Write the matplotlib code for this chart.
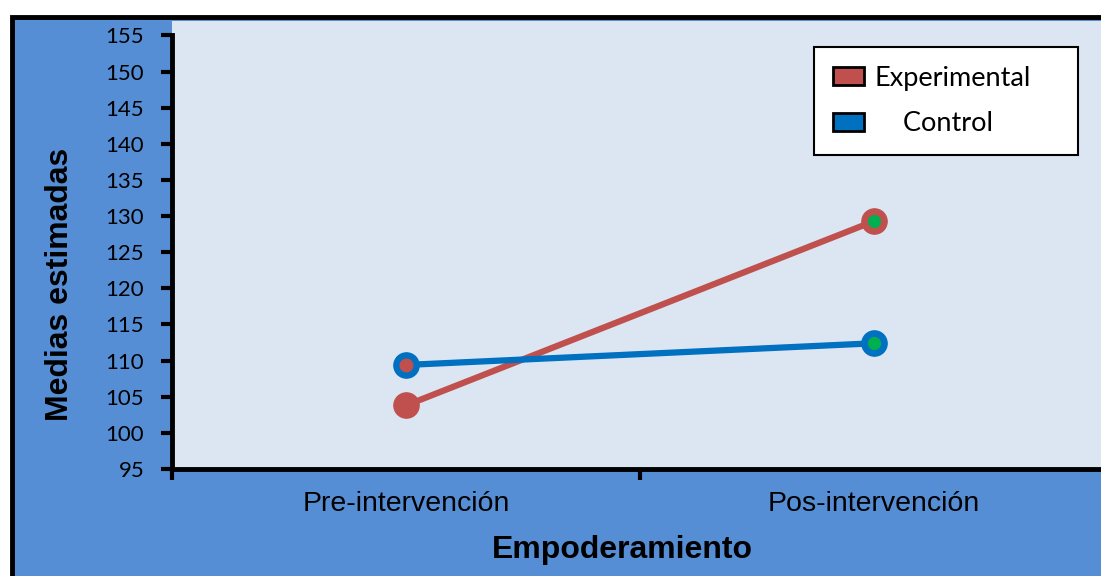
import matplotlib.pyplot as plt
from matplotlib.patches import Rectangle, Patch

# Data
fases = ['Pre-intervención', 'Pos-intervención']
experimental = [103.8, 129.3]
control = [109.4, 112.4]
y_ticks = list(range(95, 160, 5))

red = '#C0504D'
blue = '#0070C0'
green = '#00B050'

fig = plt.figure(figsize=(11.01, 5.76), dpi=100)
fig.patch.set_facecolor('white')

# blue chart frame with black border on top and left
W, H = 1101, 576
fig.patches.append(Rectangle((12 / W, -0.05), 1.05, (576 - 17) / H + 0.05, transform=fig.transFigure,
                             facecolor='#558ED5', edgecolor='black', linewidth=3.5, zorder=-5))

ax = fig.add_axes([172 / W, (576 - 469) / H, 936 / W, (469 - 21) / H])
ax.set_zorder(2)
ax.set_facecolor('#DCE6F2')

x = [0.5, 1.5]
ax.plot(x, experimental, color=red, linewidth=4.5, zorder=3)
ax.plot(x, control, color=blue, linewidth=4.5, zorder=3)

# markers: ring colour / centre colour
big, small = 330, 72
ax.scatter(x[0], experimental[0], s=big, color=red, zorder=4)
ax.scatter(x[1], experimental[1], s=big, color=red, zorder=4)
ax.scatter(x[1], experimental[1], s=small, color=green, zorder=5)
ax.scatter(x[0], control[0], s=big, color=blue, zorder=4)
ax.scatter(x[0], control[0], s=small + 10, color=red, zorder=5)
ax.scatter(x[1], control[1], s=big, color=blue, zorder=4)
ax.scatter(x[1], control[1], s=small, color=green, zorder=5)

ax.set_xlim(0, 2)
ax.set_ylim(95, 157)
ax.set_yticks(y_ticks)
ax.set_yticklabels([str(v) for v in y_ticks], fontsize=16, family='Lato')
ax.set_xticks([0, 1, 2])
ax.set_xticklabels([])
ax.set_xticks(x, minor=True)
ax.set_xticklabels(fases, minor=True, fontsize=20.5, family='Liberation Sans')
ax.tick_params(axis='x', which='minor', length=0, pad=16)
ax.tick_params(axis='both', which='major', length=8, width=3, direction='out')
ax.tick_params(axis='y', pad=12)

for s in ['top', 'right']:
    ax.spines[s].set_visible(False)
for s in ['left', 'bottom']:
    ax.spines[s].set_linewidth(3.5)
ax.spines['left'].set_bounds(95, 155)

ax.set_ylabel('Medias estimadas', fontsize=23, fontweight='bold', family='Liberation Sans')
ax.yaxis.set_label_coords((60 - 172) / 936, (469 - 284) / 448)
ax.yaxis.label.set_va('center')
ax.set_xlabel('Empoderamiento', fontsize=23, fontweight='bold', family='Liberation Sans')
ax.xaxis.set_label_coords((622 - 172) / 936, (469 - 550) / 448)
ax.xaxis.label.set_va('center')

handles = [Patch(facecolor=red, edgecolor='black', linewidth=2, label='Experimental'),
           Patch(facecolor=blue, edgecolor='black', linewidth=2, label='    Control')]
lx0 = (814 - 172) / 936
ly1 = 1 - (47 - 21) / 448
leg = ax.legend(handles=handles, loc='upper left', mode='expand',
                bbox_to_anchor=(lx0, ly1 - 0.2, (1078 - 814) / 936, 0.2),
                frameon=True, fancybox=False, edgecolor='black', framealpha=1,
                prop={'family': 'Lato', 'size': 19.5}, handlelength=1.15, handleheight=0.65,
                borderpad=0.7, labelspacing=0.75, handletextpad=0.4, borderaxespad=0)
leg.get_frame().set_linewidth(1.5)

fig.savefig('out.png', dpi=100)
